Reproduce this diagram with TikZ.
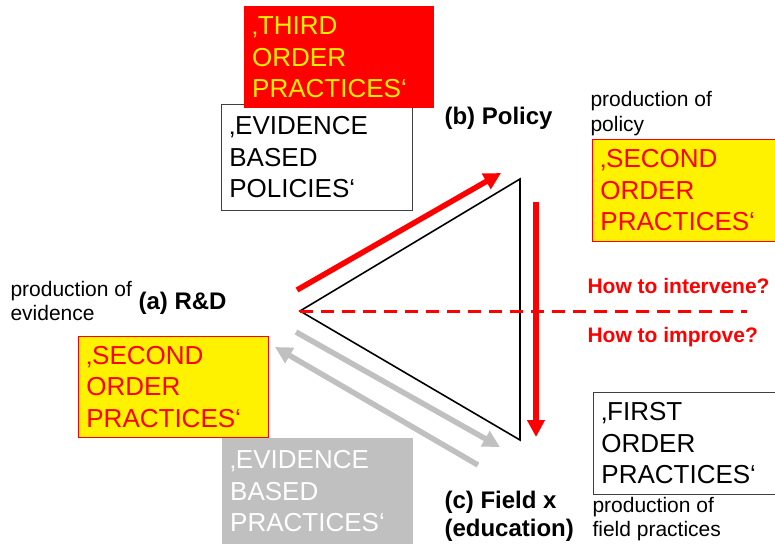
\documentclass[tikz,border=0pt]{standalone}
\usepackage{fontspec}
\setmainfont{Liberation Sans}
\usetikzlibrary{arrows.meta}

\definecolor{boxgray}{HTML}{C0C0C0}
\definecolor{framegray}{HTML}{404040}

\tikzset{
  bigtext/.style={font=\fontsize{26}{31.5}\selectfont},
  smalltext/.style={font=\fontsize{21}{24.5}\selectfont, align=left, anchor=west},
  boldlabel/.style={font=\fontsize{24}{28}\selectfont\bfseries, align=left, anchor=west},
  orderbox/.style={bigtext, anchor=north west, align=left, inner xsep=8pt,
    inner ysep=0pt, minimum height=102pt, text width=#1},
  flow/.style={line width=5.5pt, -{Triangle[length=17pt,width=17pt]}},
}

\begin{document}
\begin{tikzpicture}[x=1pt, y=-1pt] % one unit = one pixel of the sketch

    \clip (0,0) rectangle (775,543);

    % --- Coordinates (triangle and arrows) ---
    \coordinate (RD) at (300,311);
    \coordinate (Pol) at (520,179);
    \coordinate (Fld) at (520,440);

    \coordinate (upS) at (297,290);
    \coordinate (upE) at (501,173);
    \coordinate (downS) at (536,202);
    \coordinate (downE) at (536,437);
    \coordinate (grayS) at (296,332);
    \coordinate (grayE) at (500,447);
    \coordinate (backS) at (478,465);
    \coordinate (backE) at (275,347);
    \coordinate (dashE) at (747,311);

    % --- Boxes ---
    \node[orderbox=175pt, draw=framegray, line width=0.8pt, minimum height=106pt]
      (evpol) at (221,104) {‚EVIDENCE\\BASED\\POLICIES‘};
    \node[orderbox=174pt, fill=red, text=yellow]
      (third) at (244,6) {‚THIRD\\ORDER\\PRACTICES‘};
    \node[orderbox=184pt, fill=yellow, draw=red, line width=0.8pt, text=red]
      (secpol) at (592,139) {‚SECOND\\ORDER\\PRACTICES‘};
    \node[orderbox=174pt, fill=yellow, draw=red, line width=0.8pt, text=red, minimum height=101pt]
      (secrd) at (78,336) {‚SECOND\\ORDER\\PRACTICES‘};
    \node[orderbox=184pt, draw=framegray, line width=0.8pt]
      (first) at (593,392) {‚FIRST\\ORDER\\PRACTICES‘};
    \node[orderbox=175pt, fill=boxgray, text=white, minimum height=106pt]
      (evprac) at (222,438) {‚EVIDENCE\\BASED\\PRACTICES‘};

    % --- Drawing ---
    \draw[line width=1.6pt, line join=miter] (RD) -- (Pol) -- (Fld) -- cycle;
    \draw[red, line width=3pt, dash pattern=on 13pt off 8pt] (RD) -- (dashE);

    \draw[flow, red] (upS) -- (upE);
    \draw[flow, red] (downS) -- (downE);
    \draw[flow, boxgray] (grayS) -- (grayE);
    \draw[flow, boxgray] (backS) -- (backE);

    % --- Labels ---
    \node[boldlabel] (policy) at (441,118) {(b) Policy};
    \node[boldlabel] (rnd) at (135,303) {(a) R\&D};
    \node[boldlabel] (field) at (441,516) {(c) Field x\\(education)};

    \node[smalltext] (prodpol) at (587,113.5) {production of\\policy};
    \node[smalltext] (prodev) at (7,301) {production of\\evidence};
    \node[smalltext] (prodfld) at (589,519) {production of\\field practices};

    \node[boldlabel, red, font=\fontsize{21}{25}\selectfont\bfseries] (intervene) at (584,286) {How to intervene?};
    \node[boldlabel, red, font=\fontsize{21}{25}\selectfont\bfseries] (improve) at (584,337) {How to improve?};

\end{tikzpicture}
\end{document}
